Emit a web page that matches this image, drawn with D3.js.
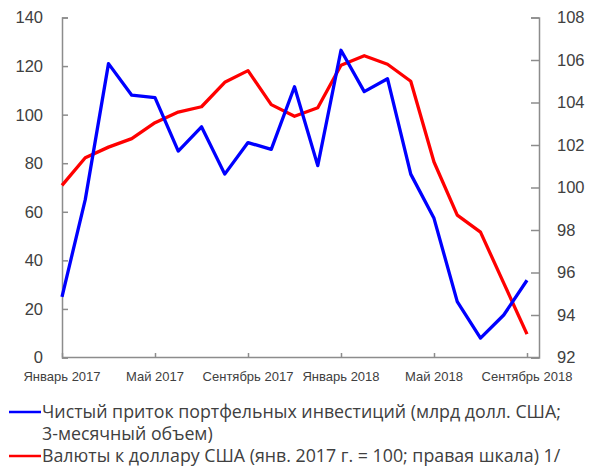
<!DOCTYPE html>
<html>
<head>
<meta charset="utf-8">
<script src="https://cdn.jsdelivr.net/npm/d3@7"></script>
<style>
  body { margin: 0; background: #fff; }
  svg { display: block; font-family: "Open Sans", sans-serif; }
</style>
</head>
<body>
<svg id="chart" width="595" height="472"></svg>
<script>
// months Jan 2017 .. Sep 2018
const months = ["2017-01","2017-02","2017-03","2017-04","2017-05","2017-06","2017-07",
  "2017-08","2017-09","2017-10","2017-11","2017-12","2018-01","2018-02","2018-03",
  "2018-04","2018-05","2018-06","2018-07","2018-08","2018-09"];
const tickMonths = ["2017-01","2017-05","2017-09","2018-01","2018-05","2018-09"];
const tickLabels = ["Январь 2017","Май 2017","Сентябрь 2017","Январь 2018","Май 2018","Сентябрь 2018"];

// net portfolio inflows, bn USD, 3-month sum (left axis)
const inflows = [25, 65, 121, 108, 107, 85, 95, 75.5, 88.5, 85.7, 111.5, 79, 126.5, 109.5, 114.8,
  75.5, 57.3, 23, 8, 17.5, 31.8];
// currencies vs USD, Jan 2017 = 100 (right axis)
const fx = [100.1, 101.4, 101.9, 102.3, 103.05, 103.55, 103.8, 104.95, 105.5, 103.9, 103.35,
  103.75, 105.75, 106.2, 105.8, 105, 101.2, 98.7, 97.9, 95.5, 93.1];

const leftTicks = [0, 20, 40, 60, 80, 100, 120, 140];
const rightTicks = [92, 94, 96, 98, 100, 102, 104, 106, 108];

const legendItems = [
  { color: "#0000ff", lines: ["Чистый приток портфельных инвестиций (млрд долл. США;", "3-месячный объем)"] },
  { color: "#ff0000", lines: ["Валюты к доллару США (янв. 2017 г. = 100; правая шкала) 1/"] }
];

const svg = d3.select("#chart");
const plotLeft = 62, plotRight = 539, plotTop = 17.5, plotBottom = 357.5;
const axisColor = "#8c8c8c", textColor = "#404040";

let x = d3.scalePoint().domain(months).range([plotLeft, 527]);
let yL = d3.scaleLinear().domain([0, 140]).range([plotBottom, plotTop]);
let yR = d3.scaleLinear().domain([92, 108]).range([plotBottom, plotTop]);

// left axis
let gL = svg.append("g").attr("transform", `translate(${plotLeft},0)`)
  .call(d3.axisRight(yL).tickValues(leftTicks).tickSize(6).tickFormat(""));
gL.append("g").selectAll("text").data(leftTicks).join("text")
  .attr("x", -19).attr("y", d => yL(d)).attr("dy", "0.36em")
  .attr("text-anchor", "end").attr("font-size", 16.5).attr("fill", textColor)
  .text(d => d);

// right axis
let gR = svg.append("g").attr("transform", `translate(${plotRight},0)`)
  .call(d3.axisLeft(yR).tickValues(rightTicks).tickSize(8).tickFormat(""));
gR.append("g").selectAll("text").data(rightTicks).join("text")
  .attr("x", 18).attr("y", d => yR(d)).attr("dy", "0.36em")
  .attr("text-anchor", "start").attr("font-size", 16.5).attr("fill", textColor)
  .text(d => d);

// bottom axis
let gX = svg.append("g").attr("transform", `translate(0,${plotBottom})`)
  .call(d3.axisTop(x).tickValues(tickMonths).tickSize(4.5).tickFormat(""));
gX.select(".domain").attr("d", `M${plotLeft},0H${plotRight}`);
gX.append("g").selectAll("text").data(tickMonths).join("text")
  .attr("x", d => x(d)).attr("y", 23.5)
  .attr("text-anchor", "middle").attr("font-size", 13).attr("fill", textColor)
  .text((d, i) => tickLabels[i]);

svg.selectAll(".domain, .tick line").attr("stroke", axisColor).attr("stroke-width", 1.5);

// lines
let lineL = d3.line().x((d, i) => x(months[i])).y(d => yL(d));
let lineR = d3.line().x((d, i) => x(months[i])).y(d => yR(d));

svg.append("path").datum(fx).attr("d", lineR)
  .attr("fill", "none").attr("stroke", "#ff0000").attr("stroke-width", 3.3)
  .attr("stroke-linejoin", "round");
svg.append("path").datum(inflows).attr("d", lineL)
  .attr("fill", "none").attr("stroke", "#0000ff").attr("stroke-width", 3.3)
  .attr("stroke-linejoin", "round");

// legend
let lineY = 412, lh = 22;
legendItems.forEach(item => {
  svg.append("line").attr("x1", 9).attr("x2", 41).attr("y1", lineY).attr("y2", lineY)
    .attr("stroke", item.color).attr("stroke-width", 2.5);
  item.lines.forEach((t, j) => {
    svg.append("text").attr("x", 42).attr("y", lineY + j * lh).attr("dy", "0.36em")
      .attr("font-size", 17.8).attr("fill", textColor).text(t);
  });
  lineY += item.lines.length * lh;
});
</script>
</body>
</html>
